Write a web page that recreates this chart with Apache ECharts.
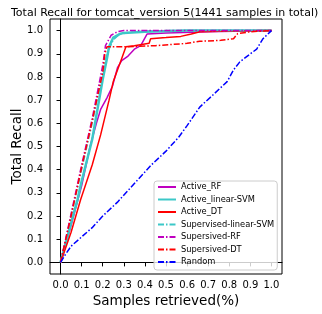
<!DOCTYPE html>
<html>
<head>
<meta charset="utf-8">
<script src="https://cdn.jsdelivr.net/npm/echarts@6/dist/echarts.min.js"></script>
<style>html,body{margin:0;padding:0;background:#fff}#c{width:322px;height:314px}</style>
</head>
<body>
<div id="c"></div>
<script>
var titleText = 'Total Recall for tomcat_version 5(1441 samples in total)';
var xTicks = [0,0.1,0.2,0.3,0.4,0.5,0.6,0.7,0.8,0.9,1.0];
var yTicks = [0,0.1,0.2,0.3,0.4,0.5,0.6,0.7,0.8,0.9,1.0];
var seriesNames = ['Active_RF','Active_linear-SVM','Active_DT','Supervised-linear-SVM','Supersived-RF','Supersived-DT','Random'];

var activeRF = [[0,0],[0.05,0.16],[0.1,0.33],[0.14,0.5],[0.17,0.6],[0.19,0.66],[0.22,0.71],[0.246,0.76],[0.27,0.84],[0.29,0.87],[0.32,0.89],[0.35,0.92],[0.38,0.935],[0.395,0.96],[0.41,0.985],[0.5,0.99],[0.7,0.995],[1,1]];
var activeSVM = [[0,0],[0.05,0.17],[0.08,0.27],[0.1,0.35],[0.15,0.53],[0.2,0.79],[0.22,0.88],[0.23,0.93],[0.25,0.97],[0.28,0.985],[0.3,0.99],[0.4,0.995],[0.6,1.0],[1,1]];
var activeDT = [[0,0],[0.05,0.13],[0.095,0.27],[0.15,0.42],[0.19,0.55],[0.23,0.70],[0.25,0.78],[0.27,0.83],[0.29,0.88],[0.31,0.93],[0.35,0.935],[0.42,0.945],[0.427,0.965],[0.5,0.97],[0.57,0.975],[0.62,0.985],[0.66,0.995],[0.8,0.998],[1,1]];
var supSVM = [[0,0],[0.05,0.2],[0.1,0.4],[0.15,0.6],[0.2,0.82],[0.22,0.9],[0.25,0.96],[0.28,0.985],[0.35,0.995],[0.5,1.0],[1,1]];
var supRF = [[0,0],[0.05,0.21],[0.1,0.42],[0.15,0.62],[0.2,0.85],[0.213,0.935],[0.24,0.98],[0.27,0.995],[0.3,1.0],[1,1]];
var supDT = [[0,0],[0.05,0.2],[0.1,0.41],[0.15,0.61],[0.2,0.82],[0.21,0.9],[0.22,0.93],[0.3,0.93],[0.45,0.935],[0.6,0.945],[0.66,0.954],[0.76,0.958],[0.82,0.965],[0.84,0.987],[0.9,0.995],[1,1]];
var randomLine = [[0,0],[0.02,0.03],[0.05,0.07],[0.1,0.11],[0.15,0.15],[0.2,0.2],[0.27,0.26],[0.35,0.34],[0.43,0.42],[0.5,0.48],[0.56,0.54],[0.6,0.59],[0.66,0.67],[0.72,0.72],[0.79,0.78],[0.82,0.83],[0.85,0.865],[0.9,0.9],[0.93,0.92],[0.96,0.965],[1,1]];

var seriesData = [activeRF, activeSVM, activeDT, supSVM, supRF, supDT, randomLine];
var colors = ['#bf00bf','#3cc8c8','#ff0000','#3cc8c8','#bf00bf','#ff0000','#0000ff'];
var widths = [1.5,2.5,1.5,1.5,1.5,1.5,1.5];
var dashDot = [6,2,1.5,2];
var types = ['solid','solid','solid',dashDot,dashDot,dashDot,dashDot];

var FONT = 'DejaVu Sans';
var chart = echarts.init(document.getElementById('c'), null, {renderer:'canvas'});
var series = seriesNames.map(function(n,i){
  return {
    name:n, type:'line', data:seriesData[i], symbol:'none', showSymbol:false,
    lineStyle:{color:colors[i], width:widths[i], type:types[i]},
    itemStyle:{color:colors[i]},
    animation:false
  };
});
chart.setOption({
  animation:false,
  title:{text:titleText, left:6, top:3, textStyle:{fontFamily:FONT, fontSize:11, fontWeight:'normal', color:'#000'}},
  grid:{left:50, right:40, top:19, bottom:40, show:true, borderColor:'#000', borderWidth:1, backgroundColor:'transparent', outerBoundsMode:'none', containLabel:false},
  legend:{
    orient:'vertical', left:154, top:181, data:seriesNames,
    itemWidth:18, itemHeight:10, itemGap:2.5, padding:[1,3,3,3],
    itemStyle:{opacity:0},
    backgroundColor:'rgba(255,255,255,0.8)', borderColor:'#ccc', borderWidth:1, borderRadius:3,
    textStyle:{fontFamily:FONT, fontSize:8.3, color:'#000', lineHeight:10}
  },
  xAxis:{
    type:'value', min:-0.05, max:1.05,
    name:'Samples retrieved(%)', nameLocation:'middle', nameGap:20, nameMoveOverlap:false,
    nameTextStyle:{fontFamily:FONT, fontSize:13.5, color:'#000'},
    axisLine:{show:true, lineStyle:{color:'#000', width:1}},
    axisTick:{show:true, inside:false, length:4, customValues:xTicks, lineStyle:{color:'#000'}},
    axisLabel:{show:true, customValues:xTicks, margin:6, fontFamily:FONT, fontSize:10, color:'#000', formatter:function(v){return v.toFixed(1);}},
    splitLine:{show:false}
  },
  yAxis:{
    type:'value', min:-0.05, max:1.05,
    name:'Total Recall', nameLocation:'middle', nameGap:26, nameRotate:90, nameMoveOverlap:false,
    nameTextStyle:{fontFamily:FONT, fontSize:13.5, color:'#000'},
    axisLine:{show:true, lineStyle:{color:'#000', width:1}},
    axisTick:{show:true, inside:false, length:4, customValues:yTicks, lineStyle:{color:'#000'}},
    axisLabel:{show:true, customValues:yTicks, margin:7, fontFamily:FONT, fontSize:10, color:'#000', formatter:function(v){return v.toFixed(1);}},
    splitLine:{show:false}
  },
  series:series
});
</script>
</body>
</html>
